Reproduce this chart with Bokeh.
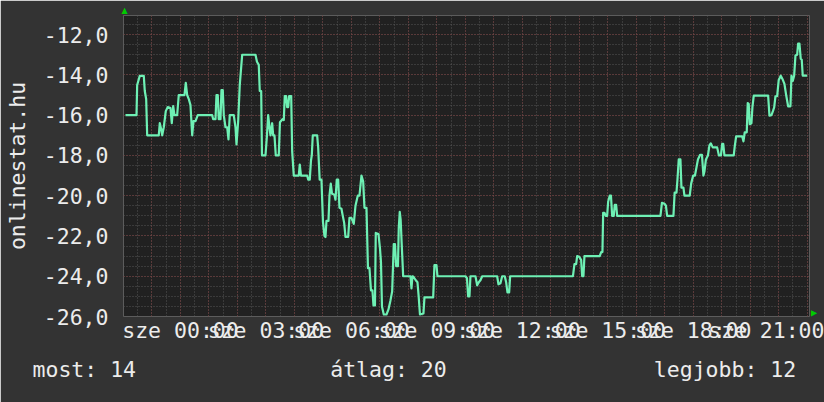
from bokeh.plotting import figure
from bokeh.models import Range1d, FixedTicker, SingleIntervalTicker, Title
from bokeh.embed import file_html
from bokeh.resources import INLINE

# ---- data (hours relative to "sze 00:00", temperature values) ----
hours = [
    -1.931, -1.544, -1.520, -1.429, -1.288, -1.253, -1.204, -1.169, -0.762, -0.727,
    -0.677, -0.642, -0.586, -0.516, -0.446, -0.351, -0.305, -0.256, -0.211, -0.116,
    -0.060, 0.140, 0.186, 0.235, 0.291, 0.351, 0.411, 0.456, 0.527, 0.607,
    1.113, 1.148, 1.229, 1.264, 1.309, 1.344, 1.404, 1.439, 1.485, 1.520,
    1.580, 1.639, 1.685, 1.730, 1.871, 1.931, 1.966, 2.025, 2.081, 2.166,
    2.633, 2.685, 2.748, 2.783, 2.833, 2.861, 2.984, 3.036, 3.078, 3.124,
    3.159, 3.219, 3.254, 3.299, 3.345, 3.450, 3.492, 3.580, 3.626, 3.661,
    3.710, 3.745, 3.780, 3.815, 3.886, 3.921, 3.977, 4.152, 4.187, 4.230,
    4.447, 4.482, 4.538, 4.581, 4.609, 4.644, 4.798, 4.833, 4.886, 4.949,
    5.002, 5.054, 5.090, 5.125, 5.195, 5.230, 5.276, 5.318, 5.405, 5.441,
    5.486, 5.535, 5.581, 5.651, 5.697, 5.746, 5.792, 5.886, 5.932, 6.002,
    6.083, 6.143, 6.223, 6.283, 6.353, 6.413, 6.458, 6.529, 6.581, 6.634,
    6.687, 6.739, 6.774, 6.827, 6.855, 6.950, 7.002, 7.038, 7.073, 7.136,
    7.231, 7.301, 7.371, 7.431, 7.487, 7.529, 7.571, 7.634, 7.662, 7.697,
    7.729, 7.764, 7.817, 8.073, 8.108, 8.143, 8.189, 8.259, 8.319, 8.361,
    8.406, 8.529, 8.564, 8.870, 8.915, 8.986, 9.021, 10.004, 10.056, 10.098,
    10.144, 10.179, 10.355, 10.414, 10.470, 10.530, 10.590, 11.116, 11.162, 11.232,
    11.292, 11.383, 11.432, 11.478, 11.537, 11.572, 13.777, 13.829, 13.889, 13.924,
    14.005, 14.065, 14.100, 14.145, 14.180, 14.717, 14.767, 14.812, 14.837, 14.882,
    14.928, 14.977, 15.012, 15.068, 15.111, 15.153, 15.209, 15.244, 15.293, 15.328,
    16.848, 16.901, 16.988, 17.041, 17.083, 17.304, 17.346, 17.410, 17.445, 17.490,
    17.550, 17.585, 17.655, 17.690, 17.876, 17.926, 17.996, 18.059, 18.112, 18.164,
    18.241, 18.305, 18.357, 18.392, 18.445, 18.515, 18.568, 18.614, 18.684, 18.838,
    18.901, 18.972, 19.014, 19.052, 19.094, 19.421, 19.456, 19.505, 19.716, 19.761,
    19.807, 19.877, 19.912, 19.947, 19.982, 20.042, 20.077, 20.123, 20.628, 20.674,
    20.744, 20.797, 20.839, 20.885, 20.944, 21.000, 21.071, 21.130, 21.200, 21.260,
    21.330, 21.411, 21.446, 21.492, 21.541, 21.587, 21.646, 21.681, 21.727, 21.773,
    21.808, 21.843, 21.997,
]
temps = [
    -16.0, -16.0, -14.5, -14.05, -14.05, -14.8, -15.2, -17.0, -17.0, -16.4,
    -16.7, -17.0, -16.6, -15.8, -15.6, -15.65, -16.4, -15.55, -16.0, -16.0,
    -15.0, -15.0, -14.4, -15.0, -15.2, -15.5, -17.0, -16.3, -16.3, -16.0,
    -16.0, -16.2, -16.2, -15.0, -15.0, -16.2, -16.2, -14.75, -14.75, -16.0,
    -16.6, -16.6, -17.2, -16.0, -16.0, -16.6, -17.45, -16.3, -14.5, -13.0,
    -13.0, -13.35, -13.5, -14.8, -14.8, -18.0, -18.0, -17.0, -16.0, -16.6,
    -17.0, -16.4, -17.0, -17.0, -18.0, -18.0, -16.35, -16.2, -16.25, -15.05,
    -15.05, -15.6, -15.6, -15.05, -15.05, -17.8, -19.0, -19.0, -18.45, -19.0,
    -19.0, -19.2, -19.2, -18.25, -18.0, -17.0, -17.0, -17.6, -19.2, -19.2,
    -21.3, -22.0, -22.05, -21.25, -21.25, -20.0, -19.4, -19.9, -19.95, -20.2,
    -19.2, -19.2, -20.6, -20.65, -21.0, -21.35, -22.05, -22.05, -21.1, -21.1,
    -21.4, -20.5, -20.0, -20.0, -19.0, -19.3, -20.6, -20.6, -23.6, -23.6,
    -24.7, -24.7, -25.45, -25.45, -21.85, -21.9, -22.6, -23.3, -25.5, -25.9,
    -25.9, -25.65, -25.2, -24.75, -22.4, -22.4, -23.5, -23.5, -21.6, -20.8,
    -21.2, -22.35, -24.0, -24.0, -24.6, -24.0, -24.05, -24.2, -24.3, -25.0,
    -25.9, -25.85, -25.05, -25.05, -23.45, -23.45, -24.0, -24.0, -24.1, -25.0,
    -25.0, -24.0, -24.0, -24.45, -24.3, -24.2, -24.0, -24.0, -24.4, -24.35,
    -24.0, -24.0, -24.3, -24.8, -24.8, -24.0, -24.0, -23.4, -23.4, -23.0,
    -23.05, -23.2, -24.0, -24.0, -23.0, -23.0, -22.8, -22.8, -20.85, -20.85,
    -21.0, -21.0, -20.3, -20.0, -20.0, -21.0, -21.0, -20.45, -20.45, -21.0,
    -21.0, -20.35, -20.4, -20.5, -21.0, -21.0, -19.85, -19.85, -19.2, -18.2,
    -18.2, -19.6, -19.6, -20.0, -20.0, -19.4, -19.0, -19.0, -18.6, -18.2,
    -17.97, -17.97, -19.0, -18.8, -18.2, -18.0, -17.5, -17.4, -17.6, -17.6,
    -18.0, -18.0, -17.43, -17.43, -18.0, -18.0, -17.55, -17.05, -17.05, -17.3,
    -16.85, -16.85, -15.4, -15.45, -16.45, -16.4, -15.6, -15.03, -15.03, -16.02,
    -16.0, -15.8, -15.62, -15.06, -15.06, -14.25, -14.04, -14.2, -14.45, -15.0,
    -15.56, -15.56, -14.04, -14.3, -14.04, -13.04, -13.0, -12.44, -12.44, -13.2,
    -13.25, -14.04, -14.04,
]

x_ticks = [0, 3, 6, 9, 12, 15, 18, 21]
x_tick_labels = ["sze 00:00", "sze 03:00", "sze 06:00", "sze 09:00",
                 "sze 12:00", "sze 15:00", "sze 18:00", "sze 21:00"]
y_ticks = [-26, -24, -22, -20, -18, -16, -14, -12]
y_tick_labels = ["-26,0", "-24,0", "-22,0", "-20,0", "-18,0", "-16,0", "-14,0", "-12,0"]
series_name = "onlinestat.hu"
legend_names = ["most", "átlag", "legjobb"]
legend_values = [14, 20, 12]

FONT = "DejaVu Sans Mono"
FS = "21.5px"
TXT = "#ececec"
OUTER = "#333333"
INNER = "#212121"
LINE = "#6ef0b4"
GRID_MAJOR = "#7a3a3a"
GRID_MINOR = "#575757"
ARROW = "#00cc00"

X0, X1 = -2.0, 22.08
Y0, Y1 = -26.0, -11.05

p = figure(width=824, height=402,
           x_range=Range1d(X0, X1), y_range=Range1d(Y0, Y1),
           output_backend="svg", toolbar_location=None,
           min_border_left=123, min_border_right=15,
           min_border_top=15, min_border_bottom=86)
p.background_fill_color = INNER
p.border_fill_color = OUTER
p.outline_line_color = None

# grids
p.xgrid.ticker = SingleIntervalTicker(interval=1, num_minor_ticks=2)
p.ygrid.ticker = SingleIntervalTicker(interval=2, num_minor_ticks=4)
for g in (p.xgrid[0], p.ygrid[0]):
    g.grid_line_color = GRID_MAJOR
    g.grid_line_dash = "1 2"
    g.grid_line_width = 1
    g.minor_grid_line_color = GRID_MINOR
    g.minor_grid_line_dash = "1 2"
    g.minor_grid_line_width = 1

# x axis
xa = p.xaxis[0]
xa.ticker = FixedTicker(ticks=x_ticks)
xa.major_label_overrides = dict(zip(x_ticks, x_tick_labels))
xa.axis_line_color = None
xa.major_tick_line_color = None
xa.minor_tick_line_color = None
xa.major_tick_out = 0
xa.major_label_standoff = 1
xa.major_label_text_font = FONT
xa.major_label_text_font_size = FS
xa.major_label_text_color = TXT

# y axis
ya = p.yaxis[0]
ya.ticker = FixedTicker(ticks=y_ticks)
ya.major_label_overrides = dict(zip(y_ticks, y_tick_labels))
ya.axis_line_color = None
ya.major_tick_line_color = None
ya.minor_tick_line_color = None
ya.major_tick_out = 0
ya.major_label_standoff = 15
ya.major_label_text_font = FONT
ya.major_label_text_font_size = FS
ya.major_label_text_color = TXT
ya.axis_label = series_name
ya.axis_label_text_font = FONT
ya.axis_label_text_font_size = FS
ya.axis_label_text_font_style = "normal"
ya.axis_label_text_color = TXT
ya.axis_label_standoff = 11

# the series
p.line(hours, temps, line_color=LINE, line_width=2.2, line_join="round")

# legend row below the time axis: rrdtool style, laid out in monospace
NBSP = "\u00a0"
legend_texts = [f"{n}: {v}" for n, v in zip(legend_names, legend_values)]
legend_line = legend_texts[0] + NBSP * 15 + legend_texts[1] + NBSP * 16 + legend_texts[2]
p.add_layout(Title(text=legend_line, align="left", offset=-91, standoff=18,
                   text_font=FONT, text_font_size=FS, text_font_style="normal",
                   text_color=TXT), "below")

# rrdtool axis arrows
p.add_layout(Title(text="▲", align="left", offset=-2, standoff=2,
                   text_font="DejaVu Sans", text_font_size="8px",
                   text_color=ARROW), "above")
p.add_layout(Title(text="▲", align="right", offset=0, standoff=0,
                   text_font="DejaVu Sans", text_font_size="8px",
                   text_color=ARROW), "right")

open("out.html", "w").write(file_html(p, INLINE))
